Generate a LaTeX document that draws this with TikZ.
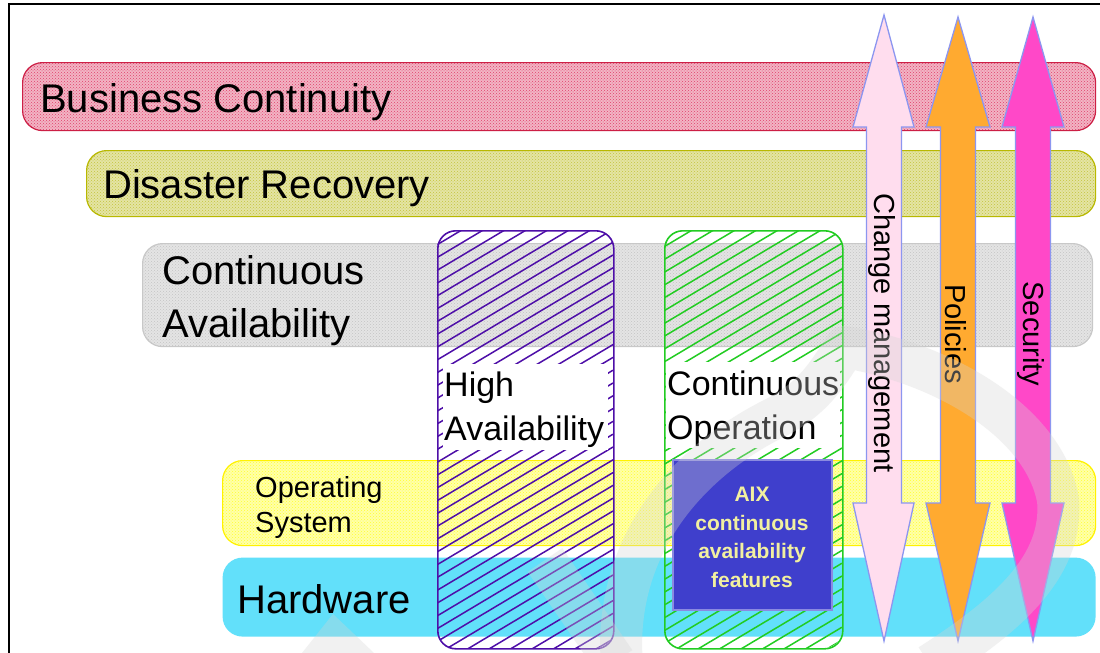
\documentclass[tikz,border=0pt]{standalone}
\usepackage{fontspec}
\setmainfont{Liberation Sans}
\usetikzlibrary{patterns}
\definecolor{bcbase}{HTML}{F2B4C4}
\definecolor{bcdot}{HTML}{E0406A}
\definecolor{bcline}{HTML}{CC1F45}
\definecolor{drbase}{HTML}{E4E4A4}
\definecolor{drdot}{HTML}{C4C43A}
\definecolor{drline}{HTML}{B8B800}
\definecolor{cabase}{HTML}{E4E4E4}
\definecolor{cadot}{HTML}{C4C4C4}
\definecolor{caline}{HTML}{C8C8C8}
\definecolor{osbase}{HTML}{FFFFA8}
\definecolor{osdot}{HTML}{FFFF30}
\definecolor{osline}{HTML}{FFF200}
\definecolor{hwfill}{HTML}{62E0FA}
\definecolor{hapurple}{HTML}{4E0FA8}
\definecolor{cogreen}{HTML}{22CC22}
\definecolor{aixfill}{HTML}{3F3FCC}
\definecolor{aixline}{HTML}{8A8AE0}
\definecolor{aixtext}{HTML}{F2F0A0}
\definecolor{arrline}{HTML}{8C96F0}
\definecolor{cmfill}{HTML}{FFDDEE}
\definecolor{pofill}{HTML}{FFAA30}
\definecolor{sefill}{HTML}{FF48C8}
\definecolor{wmark}{HTML}{D4D4D4}
\begin{document}
\begin{tikzpicture}[x=1pt,y=-1pt,
  band/.style={rectangle, rounded corners=20pt, line width=1.2pt, anchor=north west, inner sep=0pt},
  dotband/.style 2 args={band, draw=#2, preaction={fill=#1}},
  bigtext/.style={font=\fontsize{40}{53}\selectfont, inner sep=0pt, align=left},
  boxtext/.style={font=\fontsize{34}{44}\selectfont, inner sep=0pt, align=left, anchor=north west},
  arrtext/.style={font=\fontsize{29}{34}\selectfont, inner sep=0pt, rotate=-90},
  arrowshape/.style={draw=arrline, line width=1.3pt, line join=miter},
  hatch/.style={line width=1.5pt},
  wm/.style={draw=wmark, draw opacity=0.32, line width=42pt, line cap=butt, line join=round}
]
\useasboundingbox (0,0) rectangle (1100,653);
\fill[white] (0,0) rectangle (1100,653);

% ---- horizontal bands
\node[dotband={bcbase}{bcline}, pattern=crosshatch dots, pattern color=bcdot,
      minimum width=1073pt, minimum height=68pt] (bc) at (22,62) {};
\node[dotband={drbase}{drline}, pattern=crosshatch dots, pattern color=drdot,
      minimum width=1009pt, minimum height=66pt] (dr) at (86,150) {};
\node[dotband={cabase}{caline}, pattern=crosshatch dots, pattern color=cadot,
      minimum width=950pt, minimum height=103pt] (ca) at (142,243) {};
\node[dotband={osbase}{osline}, pattern=crosshatch dots, pattern color=osdot,
      minimum width=873pt, minimum height=85pt] (os) at (222,460) {};
\node[band, fill=hwfill, minimum width=873pt, minimum height=79pt] (hw) at (222,557) {};

\node[bigtext, anchor=base west] (bctxt) at (40,112) {Business Continuity};
\node[bigtext, anchor=base west] (drtxt) at (103,198) {Disaster Recovery};
\node[bigtext, anchor=north west] (catxt) at (162,255) {Continuous\\Availability};
\node[font=\fontsize{29}{35}\selectfont, inner sep=0pt, align=left, anchor=north west] (ostxt) at (255,476) {Operating\\System};
\node[bigtext, anchor=base west] (hwtxt) at (237,613) {Hardware};

% ---- High Availability box
\begin{scope}
  \clip[rounded corners=18pt] (437,230) rectangle (613,648);
  \foreach \c in {0,...,41} {
    \draw[hatch, hapurple] (437,{232+\c*12.8}) -- (613,{232+\c*12.8-105});
  }
\end{scope}
\fill[white] (443,364) rectangle (608,450);
\node[draw=hapurple, line width=1.6pt, rounded corners=18pt, rectangle, inner sep=0pt,
      anchor=north west, minimum width=176pt, minimum height=418pt] (ha) at (437,230) {};
\node[boxtext] (hatxt) at (444,372) {High\\Availability};

% ---- Continuous Operation box
\begin{scope}
  \clip[rounded corners=18pt] (664,230) rectangle (842,648);
  \foreach \c in {0,...,41} {
    \draw[hatch, cogreen] (664,{234+\c*12.8}) -- (842,{234+\c*12.8-106});
  }
\end{scope}
\fill[white] (666,362) rectangle (840,448);
\node[draw=cogreen, line width=1.6pt, rounded corners=18pt, rectangle, inner sep=0pt,
      anchor=north west, minimum width=178pt, minimum height=418pt] (co) at (664,230) {};
\node[boxtext] (cotxt) at (667,371) {Continuous\\Operation};

% ---- AIX box
\node[rectangle, fill=aixfill, draw=aixline, line width=1.5pt, anchor=north west,
      minimum width=159pt, minimum height=150pt, inner sep=0pt] (aix) at (672,459) {};
\node[font=\fontsize{21}{28.5}\selectfont\bfseries, text=aixtext, align=center,
      inner sep=0pt, anchor=north] (aixtxt) at (752,487)
      {AIX\\continuous\\availability\\features};

% ---- vertical double arrows
\draw[arrowshape, fill=cmfill] (884,15) -- (914,127) -- (901.5,127) -- (901.5,503)
   -- (914,503) -- (884,641) -- (853,503) -- (866.5,503) -- (866.5,127) -- (853,127) -- cycle;
\draw[arrowshape, fill=pofill] (958,17) -- (990,127) -- (975.5,127) -- (975.5,503)
   -- (990,503) -- (958,641) -- (926,503) -- (940.5,503) -- (940.5,127) -- (926,127) -- cycle;
\draw[arrowshape, fill=sefill] (1033,17) -- (1064,127) -- (1050.5,127) -- (1050.5,503)
   -- (1064,503) -- (1033,641) -- (1002,503) -- (1015.5,503) -- (1015.5,127) -- (1002,127) -- cycle;
\node[arrtext] (cmtxt) at (882,333) {Change management};
\node[arrtext] (potxt) at (956,334) {Policies};
\node[arrtext] (setxt) at (1031,334) {Security};

% ---- faint watermark swoosh
\fill[wmark, opacity=0.32] (302,653) -- (333,614) -- (374,653) -- cycle;
\draw[wm] (545,560) -- (615,662);
\draw[wm] (622,665) .. controls (612,545) and (690,460) .. (775,418)
   .. controls (815,398) and (830,370) .. (845,347)
   .. controls (950,365) and (1045,425) .. (1058,500)
   .. controls (1064,570) and (1000,620) .. (930,665);

% ---- frame
\draw[line width=1.3pt] (9,653) -- (9,4) -- (1100,4);
\end{tikzpicture}
\end{document}
